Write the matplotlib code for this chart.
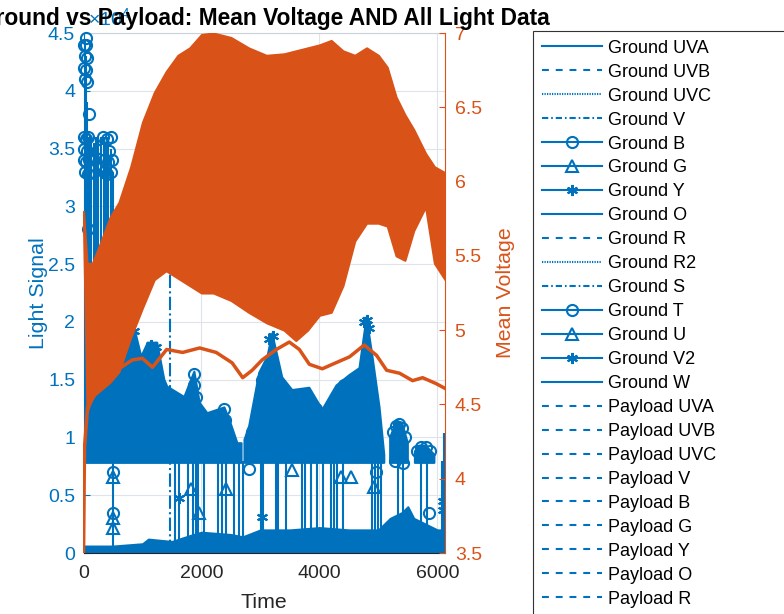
import matplotlib
matplotlib.use('Agg')
import matplotlib.pyplot as plt
from matplotlib.lines import Line2D
import numpy as np

plt.rcParams['font.family'] = 'Liberation Sans'
plt.rcParams['mathtext.fontset'] = 'custom'
plt.rcParams['mathtext.rm'] = 'Liberation Sans'

BLUE = '#0072BD'
ORANGE = '#D95319'
DARK = '#262626'

# --- raw voltage (right axis), read as min / max envelope of the dense trace
volt_t = [0, 60, 150, 300, 450, 600, 800, 1000, 1200, 1400, 1600, 1800, 2000, 2200,
          2500, 2800, 3100, 3400, 3600, 3800, 4000, 4200, 4400, 4600, 4800, 5000,
          5150, 5300, 5450, 5600, 5800, 5950, 6130]
volt_hi = [5.8, 5.45, 5.45, 5.6, 5.76, 5.86, 6.1, 6.4, 6.6, 6.74, 6.85, 6.9, 6.99, 7.0,
           6.97, 6.9, 6.85, 6.86, 6.88, 6.9, 6.92, 6.95, 6.88, 6.85, 6.9, 6.85,
           6.77, 6.57, 6.45, 6.35, 6.19, 6.1, 6.06]
volt_lo = [5.7, 4.45, 4.55, 4.6, 4.65, 4.72, 4.95, 5.15, 5.34, 5.4, 5.35, 5.3, 5.25, 5.25,
           5.2, 5.12, 5.05, 5.0, 4.93, 5.0, 5.1, 5.12, 5.3, 5.6, 5.72, 5.72,
           5.7, 5.5, 5.47, 5.67, 5.83, 5.45, 5.34]

# --- mean voltage (right axis)
mean_t = [0, 17, 68, 270, 560, 830, 1000, 1170, 1410, 1680, 1970, 2250, 2520, 2700,
          2860, 3030, 3270, 3490, 3660, 3830, 4050, 4220, 4510, 4760, 4970, 5140,
          5360, 5580, 5750, 5980, 6120]
mean_v = [3.5, 4.21, 4.48, 4.62, 4.73, 4.8, 4.81, 4.75, 4.87, 4.85, 4.88, 4.85, 4.78, 4.68,
          4.73, 4.8, 4.87, 4.92, 4.87, 4.77, 4.74, 4.77, 4.82, 4.9, 4.83, 4.73,
          4.71, 4.66, 4.68, 4.64, 4.61]

# --- light signal (left axis, x10^4)
base_t = [0, 500, 1000, 1100, 1500, 1800, 2000, 2500, 2700, 3000, 3500, 4000, 4500,
          5000, 5200, 5400, 5500, 5600, 5800, 6000, 6130]
base_hi = [0.06, 0.06, 0.08, 0.12, 0.1, 0.15, 0.18, 0.16, 0.14, 0.2, 0.2, 0.22, 0.2,
           0.2, 0.3, 0.35, 0.4, 0.3, 0.25, 0.2, 0.2]

band_floor = 0.78
band_t = [0, 190, 440, 580, 700, 860, 980, 1090, 1250, 1370, 1420, 1710, 1880, 1970,
          2100, 2390, 2510, 2610, 2680, np.nan,
          2730, 2810, 2980, 3120, 3200, 3290, 3370, 3540, 3830, 4050, 4290, 4510,
          4680, 4800, 4900, 5020, 5100, np.nan,
          5200, 5300, 5400, 5500, np.nan,
          5620, 5700, 5800, 5950]
band_hi = [1.26, 1.44, 1.5, 1.64, 1.95, 1.95, 1.7, 1.82, 1.82, 1.5, 1.44, 1.35, 1.57, 1.3,
           1.21, 1.26, 1.1, 0.95, 0.95, np.nan,
           0.98, 1.1, 1.56, 1.7, 1.9, 1.7, 1.52, 1.41, 1.43, 1.24, 1.45, 1.54,
           1.6, 2.04, 1.7, 1.26, 0.85, np.nan,
           1.0, 1.13, 1.13, 0.95, np.nan,
           0.88, 0.93, 0.93, 0.85]

spike_t = [500, 1560, 1620, 1780, 1850, 1900, 1950, 2050, 2280, 2350, 2420, 2550, 2630,
           2700, 3010, 3050, 3260, 3300, 3440, 3700, 3750, 3850, 3960, 4060, 4200,
           4250, 4300, 4400, 4900, 4950, 5000, 5050, 5330, 5420, 5720, 5820, 6080, 6110]
spike_top = [0.8, 0.8, 0.8, 0.8, 0.8, 0.8, 0.8, 0.8, 0.8, 0.8, 0.8, 0.8, 0.8,
             0.8, 0.8, 0.8, 0.8, 0.8, 0.8, 0.8, 0.8, 0.8, 0.8, 0.8, 0.8,
             0.8, 0.8, 0.8, 0.8, 0.8, 0.8, 0.8, 0.85, 0.85, 0.85, 0.85, 0.8, 1.04]

early_t = [0, 15, 30, 45, 60, 75, 90, 110, 130, 170, 210, 250, 300, 340, 380, 420, 460, 500]
early_top = [4.45, 4.4, 4.45, 4.3, 3.9, 3.6, 3.6, 3.5, 3.6, 3.55, 3.6, 3.6, 3.6, 3.6,
             3.55, 3.6, 3.5, 3.3]

dashdot_t = [1475]
dashdot_top = [2.58]

circ_t = [10, 50, 20, 60, 10, 50, 20, 60, 40,
          0, 40, 80, 10, 60, 0, 50, 90, 20, 70,
          330, 400, 460, 320, 440, 350, 420, 480, 340, 400, 460,
          90, 80, 500, 500,
          1880, 1880, 1900, 1880, 1900, 2380, 2400, 2410,
          2810, 2830, 2850, 3030, 3040, 3030, 3050,
          3450, 3530, 3870, 3950, 4280, 4420, 4480, 4620, 4680,
          4966, 5865,
          5250, 5300, 5350, 5400, 5450, 5280, 5420,
          5650, 5720, 5800, 5870]
circ_v = [4.4, 4.4, 4.3, 4.28, 4.2, 4.18, 4.1, 4.08, 4.46,
          3.6, 3.58, 3.6, 3.5, 3.48, 3.4, 3.38, 3.4, 3.3, 3.28,
          3.6, 3.58, 3.6, 3.5, 3.48, 3.4, 3.38, 3.4, 3.3, 3.28, 3.3,
          3.8, 2.8, 0.35, 0.7,
          1.55, 1.45, 1.35, 1.25, 1.15, 1.25, 1.15, 1.05,
          0.73, 0.95, 1.05, 1.5, 1.4, 1.25, 1.15,
          1.38, 1.3, 1.28, 1.25, 1.35, 1.45, 1.4, 1.45, 1.4,
          0.7, 0.35,
          1.05, 1.1, 1.12, 1.08, 1.0, 0.8, 0.78,
          0.88, 0.92, 0.92, 0.88]

tri_t = [500, 500, 500, 1830, 2420, 1966, 3542, 4373, 4543, 4932]
tri_v = [0.66, 0.3, 0.22, 0.55, 0.55, 0.35, 0.72, 0.66, 0.66, 0.57]

star_t = [1627, 3034, 6100, 6100, 30, 700, 780, 860, 1150, 1230, 3150, 3220,
          4760, 4800, 4840]
star_v = [0.48, 0.31, 0.37, 0.45, 2.02, 1.9, 1.95, 1.92, 1.8, 1.78, 1.85, 1.88,
          2.0, 2.02, 1.95]

channels = ['UVA', 'UVB', 'UVC', 'V', 'B', 'G', 'Y', 'O', 'R', 'R2', 'S', 'T', 'U', 'V2', 'W']

ASTER = (6, 2, 0)
DASH = (0, (3.3, 3.3))
DOT = (0, (0.6, 0.6))
DASHDOT = (0, (3.0, 1.4, 0.8, 1.4))
ground_styles = [('-', None), (DASH, None), (DOT, None), (DASHDOT, None),
                 ('-', 'o'), ('-', '^'), ('-', ASTER), ('-', None),
                 (DASH, None), (DOT, None), (DASHDOT, None),
                 ('-', 'o'), ('-', '^'), ('-', ASTER), ('-', None)]

fig = plt.figure(figsize=(7.84, 6.14), dpi=100)
ax = fig.add_axes([83.5 / 784, 61 / 614, 361.5 / 784, 520 / 614])
ax2 = ax.twinx()

# left axis: light data
ax.fill_between(base_t, 0, base_hi, color=BLUE, lw=1.5, zorder=2)
ax.fill_between(band_t, band_floor, band_hi, color=BLUE, lw=1.5, zorder=2)
ax.vlines(spike_t, 0, spike_top, color=BLUE, lw=1.5, zorder=2)
ax.vlines(early_t, band_floor, early_top, color=BLUE, lw=1.5, zorder=2)
ax.vlines(dashdot_t, 0, dashdot_top, color=BLUE, lw=1.5, linestyles='-.', zorder=2)
ax.plot(circ_t, circ_v, ls='none', marker='o', ms=8, mfc='none', mec=BLUE, mew=1.5,
        clip_on=False, zorder=3)
ax.plot(tri_t, tri_v, ls='none', marker='^', ms=8, mfc='none', mec=BLUE, mew=1.5, zorder=3)
ax.plot(star_t, star_v, ls='none', marker=ASTER, ms=8, mec=BLUE, mew=1.5, zorder=3)

ax.set_xlim(0, 6130)
ax.set_ylim(0, 4.5)
ax.set_xticks([0, 2000, 4000, 6000])
ax.set_yticks(np.arange(0, 4.51, 0.5))
ax.set_yticklabels(['%g' % v for v in np.arange(0, 4.51, 0.5)])
ax.grid(True, color='#dfe4ec', lw=0.8)
ax.set_axisbelow(True)
ax.tick_params(axis='x', direction='in', length=4, colors=DARK, labelsize=14, pad=9)
ax.tick_params(axis='y', direction='in', length=4, colors=BLUE, labelsize=14, pad=6)
ax.spines['left'].set_color(BLUE)
ax.spines['bottom'].set_color(DARK)
ax.spines['top'].set_color('#c9d1dd')
ax.spines['right'].set_visible(False)
ax.set_xlabel('Time', fontsize=15.4, color=DARK)
ax.xaxis.set_label_coords(0.5, -0.077)
ax.set_ylabel('Light Signal', fontsize=15.4, color=BLUE)
ax.yaxis.set_label_coords(-0.098, 0.5)
ax.text(0.012, 1.0 + 8 / 520, r'$\mathregular{\times10^{4}}$', transform=ax.transAxes,
        fontsize=14, color=BLUE, ha='left', va='baseline', zorder=1, clip_on=False)

# right axis: voltage
ax2.fill_between(volt_t, volt_lo, volt_hi, color=ORANGE, lw=1.5, zorder=2)
ax2.plot(mean_t, mean_v, color=ORANGE, lw=2.5, zorder=3)
ax2.set_ylim(3.5, 7)
ax2.set_yticks(np.arange(3.5, 7.01, 0.5))
ax2.set_yticklabels(['%g' % v for v in np.arange(3.5, 7.01, 0.5)])
ax2.tick_params(axis='y', direction='in', length=4, colors=ORANGE, labelsize=14, pad=7)
for s in ['left', 'top', 'bottom']:
    ax2.spines[s].set_visible(False)
ax2.spines['right'].set_color(ORANGE)
ax2.set_ylabel('Mean Voltage', fontsize=15.4, color=ORANGE)
ax2.yaxis.set_label_coords(1.141, 0.5)
ax2.set_title('Ground vs Payload: Mean Voltage AND All Light Data',
              fontsize=16.4, fontweight='bold', pad=5.8, zorder=5)

# legend
handles, labels = [], []
for name, (ls, mk) in zip(channels, ground_styles):
    handles.append(Line2D([], [], color=BLUE, lw=1.5, ls=ls, marker=mk, ms=8,
                          mfc='none', mew=1.5))
    labels.append('Ground ' + name)
for name in channels:
    handles.append(Line2D([], [], color=BLUE, lw=1.5, ls=DASH))
    labels.append('Payload ' + name)
leg = fig.legend(handles, labels, loc='upper left',
                 bbox_to_anchor=(533 / 784, (614 - 30.7) / 614, 0.45, 0),
                 mode='expand', fontsize=13, handlelength=3.3, handletextpad=0.35,
                 labelspacing=0.385, borderpad=0.5, borderaxespad=0, numpoints=1,
                 fancybox=False, framealpha=1, edgecolor='#333333')
leg.get_frame().set_linewidth(0.8)

fig.savefig('out.png', dpi=100)
